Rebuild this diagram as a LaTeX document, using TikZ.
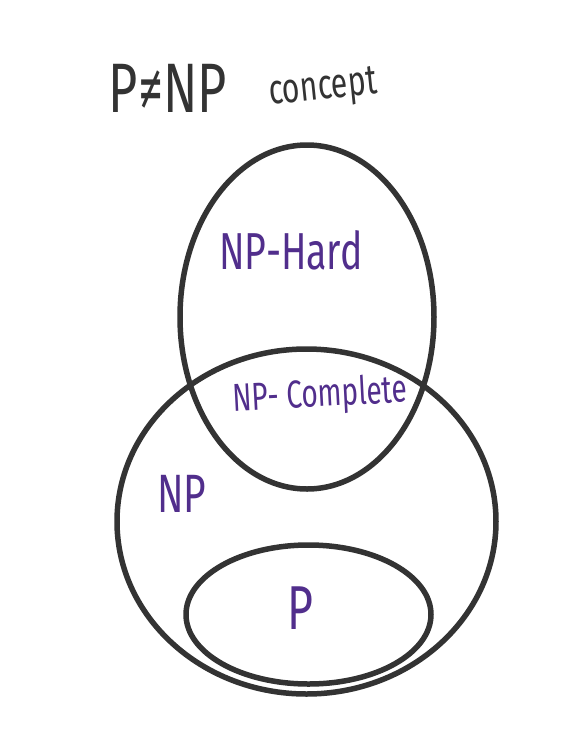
\documentclass[tikz,border=0pt]{standalone}
\usepackage{fontspec}
\newfontfamily\handfont[FakeStretch=0.72]{Fira Sans}
\usetikzlibrary{positioning}
\definecolor{inkgray}{HTML}{333333}
\definecolor{inkpurple}{HTML}{512E8C}
\tikzset{
  setline/.style={draw=inkgray,line width=5.5pt},
  blacktext/.style={text=inkgray,font=\handfont,inner sep=0pt},
  purpletext/.style={text=inkpurple,font=\handfont,inner sep=0pt}
}
\begin{document}
\begin{tikzpicture}[line cap=round,line join=round,x=1pt,y=-1pt]
  \useasboundingbox (0,0) rectangle (570,732);
  % sets
  \draw[setline] (307,317) ellipse [x radius=127,y radius=172];
  \draw[setline] (306.5,521.5) ellipse [x radius=189.5,y radius=172.5];
  \draw[setline] (308.5,614.5) ellipse [x radius=122.5,y radius=69.5];
  % title
  \node[blacktext,font=\handfont\fontsize{70}{70}\selectfont] (title) at (168,88) {P≠NP};
  \node[blacktext,font=\handfont\fontsize{42}{42}\selectfont,rotate=6,anchor=base west] (concept) at (270,105) {concept};
  % labels
  \node[purpletext,font=\handfont\fontsize{52}{52}\selectfont] (hard) at (291,250) {NP-Hard};
  \node[purpletext,font=\handfont\fontsize{39}{39}\selectfont,rotate=3] (complete) at (320,396) {NP- Complete};
  \node[purpletext,font=\handfont\fontsize{54}{54}\selectfont] (np) at (182,494) {NP};
  \node[purpletext,font=\handfont\fontsize{62}{62}\selectfont] (p) at (300,608) {P};
\end{tikzpicture}
\end{document}
